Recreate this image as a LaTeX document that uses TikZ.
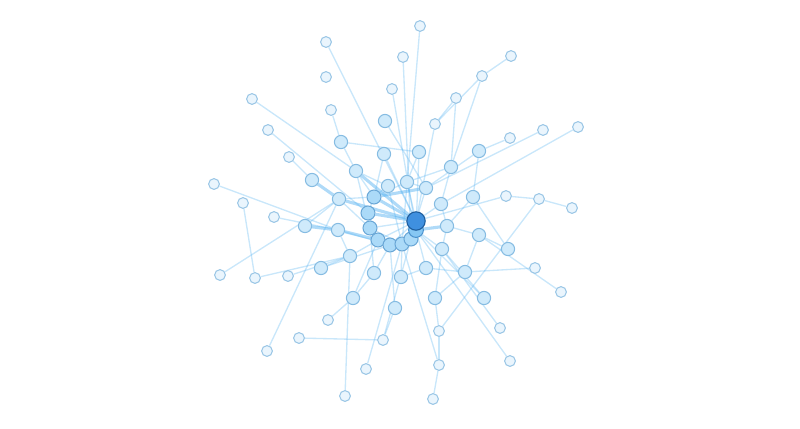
\documentclass[tikz,border=0pt]{standalone}
\usepackage{tikz}
\usetikzlibrary{backgrounds}

\definecolor{leaffill}{HTML}{EAF5FD}
\definecolor{leafline}{HTML}{9CC7E6}
\definecolor{midfill}{HTML}{CFEAFB}
\definecolor{midline}{HTML}{86BCE2}
\definecolor{corefill}{HTML}{ABDAF8}
\definecolor{coreline}{HTML}{6AA7D6}
\definecolor{nearfill}{HTML}{86C7F3}
\definecolor{nearline}{HTML}{4A92CE}
\definecolor{hubfill}{HTML}{3F90DF}
\definecolor{hubline}{HTML}{1E5E9E}
\definecolor{linkcol}{HTML}{4DAEF0}

\tikzset{
  leaf/.style={circle,draw=leafline,fill=leaffill,line width=0.75pt,minimum size=0.27cm,inner sep=0pt},
  mid/.style={circle,draw=midline,fill=midfill,line width=0.75pt,minimum size=0.33cm,inner sep=0pt},
  core/.style={circle,draw=coreline,fill=corefill,line width=0.75pt,minimum size=0.35cm,inner sep=0pt},
  near/.style={circle,draw=nearline,fill=nearfill,line width=0.75pt,minimum size=0.37cm,inner sep=0pt},
  hub/.style={circle,draw=hubline,fill=hubfill,line width=0.8pt,minimum size=0.46cm,inner sep=0pt},
  link/.style={draw=linkcol,draw opacity=0.3,line width=0.95pt},
  heavy/.style={draw=linkcol,draw opacity=0.45,line width=2.2pt}
}

\begin{document}
\begin{tikzpicture}[x=0.025cm,y=-0.025cm]
        \useasboundingbox (0,0) rectangle (800,428);

        % outer ring
        \foreach \n/\px/\py in {1/420/26, 2/326/42, 3/403/57, 4/511/56, 5/326/77, 6/482/76,
            7/392/89, 8/252/99, 9/456/98, 10/331/110, 11/268/130, 12/435/124, 13/543/130,
            14/578/127, 15/510/138, 16/289/157, 17/214/184, 18/243/203, 19/274/217,
            20/539/199, 21/572/208, 22/506/196, 23/220/275, 24/255/278, 25/288/276,
            26/535/268, 27/561/292, 28/328/320, 29/267/351, 30/299/338, 31/383/340,
            32/500/328, 33/366/369, 34/345/396, 35/433/399, 36/439/365, 37/510/361, 38/439/331}
            \node[leaf](\n) at (\px,\py){};

        % inner nodes
        \foreach \n/\px/\py in {39/385/121, 40/341/142, 41/384/154, 42/419/152, 43/479/151,
            44/451/167, 45/312/180, 46/356/171, 47/407/182, 48/426/188, 49/388/186,
            50/473/197, 51/441/204, 52/339/199, 55/305/226, 56/338/230, 58/447/226,
            59/479/235, 60/508/249, 61/442/249, 62/350/256, 63/321/268, 70/374/273,
            71/401/277, 72/426/268, 73/465/272, 74/484/298, 75/435/298, 76/353/298, 77/395/308}
            \node[mid](\n) at (\px,\py){};

        \foreach \n/\px/\py in {53/374/197, 54/368/213, 57/370/228, 64/378/240, 65/390/245,
            66/402/244, 67/411/239}
            \node[core](\n) at (\px,\py){};

        \node[near](68) at (416,230){};
        \node[hub](69) at (416,221){};

        \begin{scope}[on background layer]
        \path[link]
        (1) edge (66) (2) edge (69) (3) edge (67) (4) edge (6) (6) edge (44)
        (6) edge (12) (7) edge (68) (8) edge (46) (9) edge (44) (9) edge (12)
        (10) edge (40) (11) edge (54) (12) edge (69) (13) edge (48) (14) edge (51)
        (15) edge (43) (16) edge (45) (17) edge (56) (18) edge (24) (19) edge (56)
        (20) edge (21) (20) edge (22) (20) edge (38) (22) edge (69) (23) edge (52)
        (24) edge (62) (25) edge (62) (26) edge (73) (27) edge (59) (28) edge (76)
        (29) edge (52) (30) edge (31) (31) edge (77) (32) edge (61) (33) edge (66)
        (34) edge (62) (35) edge (36) (36) edge (38) (36) edge (66) (37) edge (68)
        (38) edge (75)
        (39) edge (48) (40) edge (42) (40) edge (46) (41) edge (69) (41) edge (53)
        (42) edge (47) (42) edge (68) (43) edge (48) (43) edge (50) (44) edge (47)
        (44) edge (51) (46) edge (53) (46) edge (57) (46) edge (49) (47) edge (48)
        (47) edge (53) (47) edge (69) (48) edge (69) (49) edge (53) (49) edge (66)
        (50) edge (58) (50) edge (60) (51) edge (69) (51) edge (58) (52) edge (53)
        (52) edge (57) (53) edge (54) (54) edge (57) (54) edge (64) (55) edge (52)
        (56) edge (62) (56) edge (65) (57) edge (64) (57) edge (69) (57) edge (66)
        (58) edge (59) (58) edge (61) (59) edge (60) (59) edge (73) (61) edge (68)
        (61) edge (75) (62) edge (64) (62) edge (63) (63) edge (65) (64) edge (69)
        (65) edge (69) (70) edge (65) (70) edge (57) (71) edge (66) (71) edge (72)
        (72) edge (68) (72) edge (73) (73) edge (75) (74) edge (68) (74) edge (61)
        (76) edge (70) (76) edge (64) (77) edge (65) (31) edge (67);

        \path[heavy]
        (45) edge (52) (55) edge (56) (56) edge (64) (48) edge (53) (53) edge (69)
        (58) edge (68) (46) edge (69) (52) edge (69) (54) edge (69)
        (64) edge (65) (65) edge (66) (66) edge (67) (67) edge (68) (68) edge (69);
        \end{scope}
    \end{tikzpicture}
\end{document}
